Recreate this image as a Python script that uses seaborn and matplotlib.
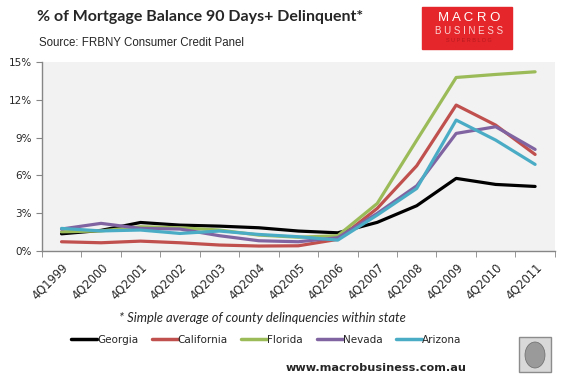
import matplotlib.pyplot as plt
import matplotlib.patches as mpatches
from matplotlib.lines import Line2D
import pandas as pd
import seaborn as sns

# Data (% of balance 90+ days delinquent)
quarters = ['4Q1999', '4Q2000', '4Q2001', '4Q2002', '4Q2003', '4Q2004', '4Q2005',
            '4Q2006', '4Q2007', '4Q2008', '4Q2009', '4Q2010', '4Q2011']
georgia = [1.37, 1.64, 2.27, 2.06, 1.98, 1.85, 1.59, 1.45, 2.28, 3.6, 5.77, 5.29, 5.13]
california = [0.74, 0.66, 0.79, 0.66, 0.48, 0.40, 0.42, 0.93, 3.39, 6.77, 11.59, 10.0, 7.67]
florida = [1.53, 1.6, 1.93, 1.85, 1.67, 1.27, 1.1, 1.22, 3.78, 8.8, 13.78, 14.02, 14.23]
nevada = [1.75, 2.2, 1.8, 1.75, 1.22, 0.82, 0.74, 1.06, 2.99, 5.18, 9.34, 9.87, 8.07]
arizona = [1.8, 1.6, 1.67, 1.4, 1.59, 1.32, 1.14, 0.87, 2.86, 4.97, 10.4, 8.81, 6.88]

states = ['Georgia', 'California', 'Florida', 'Nevada', 'Arizona']
colors = ['#000000', '#c0504d', '#9bbb59', '#8064a2', '#4bacc6']

df = pd.DataFrame({'Georgia': georgia, 'California': california, 'Florida': florida,
                   'Nevada': nevada, 'Arizona': arizona})
df['pos'] = range(len(quarters))
df_long = df.melt(id_vars='pos', var_name='state', value_name='value')

sns.set_style('white')
plt.rcParams['font.family'] = ['DejaVu Sans']

fig = plt.figure(figsize=(5.65, 3.81), dpi=100)
ax = fig.add_axes([0.074, 0.341, 0.908, 0.496])
ax.set_facecolor('#f2f2f2')

sns.lineplot(data=df_long, x='pos', y='value', hue='state', hue_order=states,
             palette=colors, linewidth=2.3, legend=False, ax=ax)

ax.set_xlim(-0.5, len(quarters) - 0.5)
ax.set_ylim(0, 15)
ax.set_yticks(range(0, 16, 3))
ax.set_yticklabels([f'{v}%' for v in range(0, 16, 3)], fontsize=7.5)
ax.set_xticks(range(len(quarters)))
ax.set_xticklabels(quarters, rotation=45, ha='right', rotation_mode='anchor', fontsize=8.3)
ax.set_xticks([i - 0.5 for i in range(len(quarters) + 1)], minor=True)
ax.tick_params(axis='x', which='major', length=0, pad=7)
ax.tick_params(axis='x', which='minor', length=4, color='#868686', direction='out', bottom=True)
ax.tick_params(axis='y', length=4, color='#868686', direction='out', left=True, pad=3)
ax.set_xlabel('')
ax.set_ylabel('')
for s in ['top', 'right']:
    ax.spines[s].set_visible(False)
for s in ['left', 'bottom']:
    ax.spines[s].set_color('#868686')
    ax.spines[s].set_linewidth(1)

# Titles
fig.text(37 / 565, 1 - 17 / 381, '% of Mortgage Balance 90 Days+ Delinquent*', fontsize=11.5,
         fontweight='bold', family='Lato', va='center', ha='left')
fig.text(39 / 565, 1 - 43 / 381, 'Source: FRBNY Consumer Credit Panel', fontsize=8.3,
         family='Liberation Sans', va='center', ha='left')

# Logo box
fig.patches.append(mpatches.Rectangle((422 / 565, 1 - 49 / 381), 90 / 565, 42 / 381,
                                      transform=fig.transFigure, color='#e5262b', zorder=0))
fig.text(469 / 565, 1 - 18 / 381, 'M A C R O', color='white', fontsize=9.5, ha='center', va='center',
         family='Liberation Sans')
fig.text(469 / 565, 1 - 31 / 381, 'B U S I N E S S', color='#fbd5d5', fontsize=7, ha='center',
         va='center', family='Liberation Sans')
fig.text(469 / 565, 1 - 41 / 381, 'S U P E R B L O G', color='#b81a1f', fontsize=4, ha='center',
         va='center', family='Liberation Sans')

# Footnote
fig.text(262 / 565, 1 - 318 / 381, '* Simple average of county delinquencies within state',
         fontsize=9.4, style='italic', family='Lato', ha='center', va='center')

# Legend
handles = [Line2D([0], [0], color=c, lw=2.5) for c in colors]
fig.legend(handles, states, loc='center', bbox_to_anchor=(266 / 565, 1 - 340 / 381), ncol=5,
           frameon=False, handlelength=2.5, handletextpad=0.0, columnspacing=1.3,
           prop={'family': 'DejaVu Sans', 'size': 7.5})

fig.text(376 / 565, 1 - 368 / 381, 'www.macrobusiness.com.au', fontsize=8.1, fontweight='bold',
         family='DejaVu Sans', ha='center', va='center')

# Wolf image placeholder
fig.patches.append(mpatches.Rectangle((519 / 565, 1 - 372 / 381), 32 / 565, 35 / 381,
                                      transform=fig.transFigure, facecolor='#d9d9d9',
                                      edgecolor='#8c8c8c', lw=1))
fig.patches.append(mpatches.Ellipse((535 / 565, 1 - 355 / 381), 20 / 565, 26 / 381,
                                    transform=fig.transFigure, facecolor='#9a9a9a',
                                    edgecolor='#6a6a6a', lw=0.5))

fig.savefig('out.png', dpi=100)
